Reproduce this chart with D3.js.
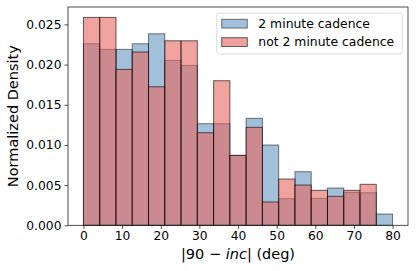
<!DOCTYPE html>
<html>
<head>
<meta charset="utf-8">
<script src="https://cdn.jsdelivr.net/npm/d3@7"></script>
<style>
  html, body { margin: 0; padding: 0; background: #fff; }
  svg { display: block; font-family: "DejaVu Sans", sans-serif; }
</style>
</head>
<body>
<div class="chart"></div>
<script>
/*
    Data
*/
const bin_range = [0, 80];
const bin_count = 19;
const series_names = ["2 minute cadence", "not 2 minute cadence"];
const two_min_density = [0.02259, 0.02189, 0.02189, 0.02259, 0.02383, 0.02052, 0.0199, 0.01264, 0.01264,
    0.0087, 0.01331, 0.00999, 0.00331, 0.00667, 0.00336, 0.00464, 0.0041, 0.00405, 0.0014];
const not_two_min_density = [0.02587, 0.02587, 0.0194, 0.02156, 0.01724, 0.02296, 0.02296, 0.01152, 0.01799,
    0.0087, 0.01219, 0.0029, 0.00576, 0.00501, 0.00435, 0.00361, 0.00435, 0.0051, 0];
const x_ticks = [0, 10, 20, 30, 40, 50, 60, 70, 80];
const y_ticks = [0, 0.005, 0.01, 0.015, 0.02, 0.025];

/*
    Configuration
*/
const width = 416, height = 271;
const plot = { left: 68, right: 408, top: 7, bottom: 225.3 };
const colors = {
    blue: { fill: "#4682b4", opacity: 0.5 },
    pink: { fill: "#e6665d", opacity: 0.6 }
};

const bin_width = (bin_range[1] - bin_range[0]) / bin_count;
const to_bins = values => values.map((v, i) => ({
    x0: bin_range[0] + i * bin_width,
    x1: bin_range[0] + (i + 1) * bin_width,
    y: v
}));

const y_max = d3.max(two_min_density.concat(not_two_min_density)) * 1.05;

const xScale = d3.scaleLinear()
                .domain([bin_range[0] - 4, bin_range[1] + 4])
                .range([plot.left, plot.right]);
const yScale = d3.scaleLinear()
                .domain([0, y_max])
                .range([plot.bottom, plot.top]);

const svg = d3.select(".chart").append("svg")
                .attr("width", width)
                .attr("height", height);

/* Bars: blue first, pink on top */
function draw_hist(values, style) {
    svg.append("g")
        .selectAll("rect")
        .data(to_bins(values).filter(d => d.y > 0))
        .join("rect")
        .attr("x", d => xScale(d.x0))
        .attr("y", d => yScale(d.y))
        .attr("width", d => xScale(d.x1) - xScale(d.x0))
        .attr("height", d => yScale(0) - yScale(d.y))
        .attr("fill", style.fill)
        .attr("fill-opacity", style.opacity)
        .attr("stroke", "#000")
        .attr("stroke-opacity", style.opacity)
        .attr("stroke-width", 1);
}
draw_hist(two_min_density, colors.blue);
draw_hist(not_two_min_density, colors.pink);

/* Axes */
const xAxis = d3.axisBottom(xScale).tickValues(x_ticks).tickSize(3.5).tickPadding(2.6);
const yAxis = d3.axisLeft(yScale).tickValues(y_ticks).tickSize(3.5).tickPadding(3)
                .tickFormat(d3.format(".3f"));

const gx = svg.append("g")
            .attr("transform", `translate(0,${plot.bottom})`)
            .call(xAxis);
const gy = svg.append("g")
            .attr("transform", `translate(${plot.left},0)`)
            .call(yAxis);
[gx, gy].forEach(g => {
    g.select(".domain").remove();
    g.selectAll("line").attr("stroke", "#222").attr("stroke-width", 0.8);
    g.selectAll("text")
        .attr("font-family", "DejaVu Sans")
        .attr("font-size", 12.3)
        .attr("fill", "#000");
});

/* Spines */
svg.append("rect")
    .attr("x", plot.left)
    .attr("y", plot.top)
    .attr("width", plot.right - plot.left)
    .attr("height", plot.bottom - plot.top)
    .attr("fill", "none")
    .attr("stroke", "#222")
    .attr("stroke-width", 0.8);

/* Axis labels */
const xlabel = svg.append("text")
    .attr("x", (plot.left + plot.right) / 2)
    .attr("y", 258.5)
    .attr("text-anchor", "middle")
    .attr("font-size", 14.5);
xlabel.append("tspan").text("|90 \u2212 ");
xlabel.append("tspan").attr("font-style", "italic").text("inc");
xlabel.append("tspan").text("| (deg)");

svg.append("text")
    .attr("transform", `translate(18,${(plot.top + plot.bottom) / 2}) rotate(-90)`)
    .attr("text-anchor", "middle")
    .attr("font-size", 14.5)
    .text("Normalized Density");

/* Legend */
const legend = svg.append("g");
legend.append("rect")
    .attr("x", 216.7)
    .attr("y", 13.3)
    .attr("width", 185.6)
    .attr("height", 40.7)
    .attr("rx", 2.5)
    .attr("fill", "#fff")
    .attr("fill-opacity", 0.8)
    .attr("stroke", "#d3d3d3")
    .attr("stroke-width", 0.8);

const legend_styles = [colors.blue, colors.pink];
series_names.forEach((name, i) => {
    const yy = 19.3 + i * 18.4;
    legend.append("rect")
        .attr("x", 221.7)
        .attr("y", yy)
        .attr("width", 25.6)
        .attr("height", 8.8)
        .attr("fill", legend_styles[i].fill)
        .attr("fill-opacity", legend_styles[i].opacity)
        .attr("stroke", "#000")
        .attr("stroke-opacity", legend_styles[i].opacity)
        .attr("stroke-width", 1);
    legend.append("text")
        .attr("x", 258.3)
        .attr("y", yy + 4.4)
        .attr("dy", "0.35em")
        .attr("font-size", 12.4)
        .text(name);
});
</script>
</body>
</html>
